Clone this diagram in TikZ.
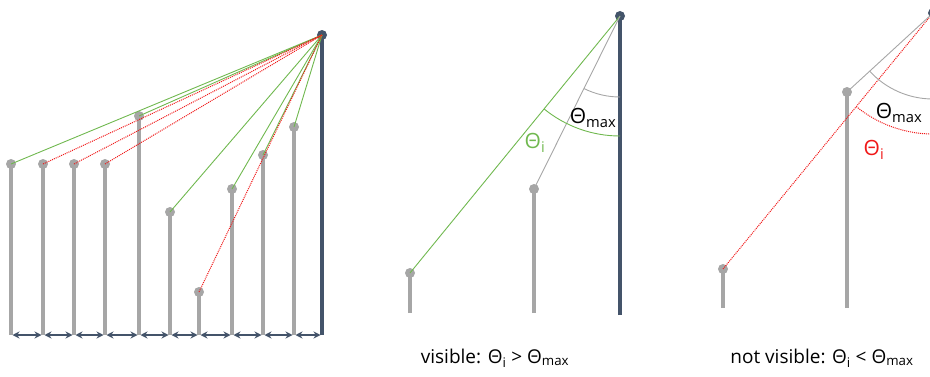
\documentclass[tikz,border=0pt]{standalone}
\usepackage{fontspec}
\setmainfont{Open Sans}
\usetikzlibrary{positioning, calc, arrows.meta}
\definecolor{polegray}{HTML}{A6A6A6}
\definecolor{slate}{HTML}{44546A}
\definecolor{seengreen}{HTML}{70B84F}
\definecolor{hiddenred}{HTML}{F01818}

\tikzset{
  pole/.style={polegray, line width=3.4pt},
  mast/.style={slate, line width=3.4pt},
  head/.style={circle, fill=polegray, inner sep=0pt, minimum size=10pt},
  eye/.style={circle, fill=slate, inner sep=0pt, minimum size=10pt},
  seen/.style={seengreen, line width=0.9pt},
  hidden/.style={hiddenred, densely dotted, line width=1pt},
  ray/.style={polegray, line width=0.9pt},
  gap/.style={slate, line width=1.3pt, {Stealth[length=7pt,width=7pt]}-{Stealth[length=7pt,width=7pt]}, shorten <=1.5pt, shorten >=1.5pt},
  lbl/.style={font=\fontsize{21}{23}\selectfont, inner sep=0pt},
  caption/.style={font=\fontsize{19}{21}\selectfont, inner sep=0pt}
}

\begin{document}
\begin{tikzpicture}[x=1pt, y=1pt]
        \useasboundingbox (0,0) rectangle (930,376);
        \clip (0,0) rectangle (930,376);
        %left panel: observer
        \coordinate (ob) at (322,41);
        \draw[mast] (ob) -- (322,341);
        \node[eye] (obs) at (322,341) {};
        %left panel: poles
        \foreach \i/\x/\h in {1/11/212, 2/43/212, 3/74/212, 4/105/212, 5/139/260,
                              6/170/164, 7/199/84, 8/232/187, 9/263/221, 10/294/249} {
            \coordinate (b\i) at (\x,41);
            \draw[pole] (b\i) -- (\x,\h);
            \node[head] (t\i) at (\x,\h) {};
        }
        %sight lines
        \foreach \i in {1,5,6,8,9,10}
            \draw[seen] (t\i.center) -- (obs.center);
        \foreach \i in {2,3,4,7}
            \draw[hidden] (t\i.center) -- (obs.center);
        %spacing arrows
        \foreach \i [evaluate=\i as \j using int(\i+1)] in {1,...,9}
            \draw[gap] (b\i) -- (b\j);
        \draw[gap] (b10) -- (ob);

        %middle panel
        \coordinate (mob) at (620,61);
        \draw[mast] (mob) -- (620,360);
        \node[eye] (mobs) at (620,360) {};
        \coordinate (mb1) at (410,63);
        \draw[pole] (mb1) -- (410,103);
        \node[head] (mt1) at (410,103) {};
        \coordinate (mb2) at (534,63);
        \draw[pole] (mb2) -- (534,187);
        \node[head] (mt2) at (534,187) {};
        \draw[seen] (mt1.center) -- (mobs.center);
        \draw[ray] (mt2.center) -- (mobs.center);
        \draw[ray] ($(mobs.center)+(-90:81)$) arc[start angle=-90, end angle=-116.4, radius=81];
        \draw[seen] ($(mobs.center)+(-90:120)$) arc[start angle=-90, end angle=-129.3, radius=120];
        \node[lbl] (mmax) at (593,258) {Θ\textsubscript{max}};
        \node[lbl, text=seengreen] (mi) at (535,233) {Θ\textsubscript{i}};
        \node[caption] (mcap) at (495,18) {visible: Θ\textsubscript{i} > Θ\textsubscript{max}};

        %right panel
        \node[eye] (robs) at (933,363) {};
        \coordinate (rb1) at (723,68);
        \draw[pole] (rb1) -- (723,107);
        \node[head] (rt1) at (723,107) {};
        \coordinate (rb2) at (847,68);
        \draw[pole] (rb2) -- (847,284);
        \node[head] (rt2) at (847,284) {};
        \draw[hidden] (rt1.center) -- (robs.center);
        \draw[ray] (rt2.center) -- (robs.center);
        \draw[ray] ($(robs.center)+(-90:86)$) arc[start angle=-90, end angle=-137.4, radius=86];
        \draw[hidden] ($(robs.center)+(-90:121)$) arc[start angle=-90, end angle=-129.4, radius=121];
        \node[lbl] (rmax) at (899,263) {Θ\textsubscript{max}};
        \node[lbl, text=hiddenred] (ri) at (874,226) {Θ\textsubscript{i}};
        \node[caption] (rcap) at (822,18) {not visible: Θ\textsubscript{i} < Θ\textsubscript{max}};
    \end{tikzpicture}
\end{document}
